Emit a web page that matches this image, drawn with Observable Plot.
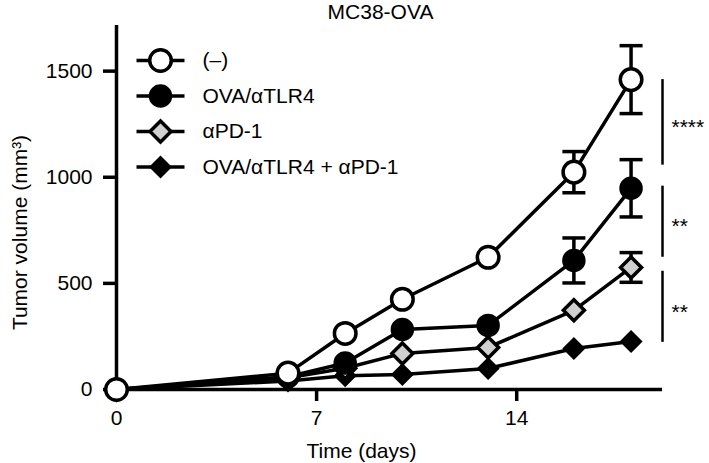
<!DOCTYPE html>
<html>
<head>
<meta charset="utf-8">
<script src="https://cdn.jsdelivr.net/npm/d3@7"></script>
<script src="https://cdn.jsdelivr.net/npm/@observablehq/plot@0.6"></script>
<style>
  html, body { margin: 0; padding: 0; background: #fff; }
  #chart { width: 709px; height: 463px; }
</style>
</head>
<body>
<div id="chart"></div>
<script>
// ---- data ----
const chartTitle = "MC38-OVA";
const xLabel = "Time (days)";
const yLabel = "Tumor volume (mm³)";
const days = [0, 6, 8, 10, 13, 16, 18];
const seriesNames = ["(–)", "OVA/αTLR4", "αPD-1", "OVA/αTLR4 + αPD-1"];
const negVol   = [0, 77, 264, 425, 623, 1024, 1460];
const ovaVol   = [0, 60, 125, 283, 302, 608, 948];
const pd1Vol   = [0, 55, 100, 170, 198, 373, 575];
const comboVol = [0, 40, 65, 71, 99, 193, 226];
const negSem   = [0, 0, 0, 0, 0, 97, 160];
const ovaSem   = [0, 0, 0, 0, 0, 106, 135];
const pd1Sem   = [0, 0, 0, 0, 0, 0, 70];
const comboSem = [0, 0, 0, 0, 0, 0, 0];
const sigLabels = ["****", "**", "**"];
const sigFrom = [1460, 958, 557];
const sigTo   = [1057, 623, 222];
const xTicks = [0, 7, 14];
const yTicks = [0, 500, 1000, 1500];

// ---- build tables ----
const volumes = [negVol, ovaVol, pd1Vol, comboVol];
const sems = [negSem, ovaSem, pd1Sem, comboSem];
const series = seriesNames.map((name, i) =>
  days.map((d, j) => ({series: name, day: d, vol: volumes[i][j], sem: sems[i][j]}))
);
const sigRows = sigLabels.map((t, i) => ({label: t, y1: sigFrom[i], y2: sigTo[i], mid: (sigFrom[i] + sigTo[i]) / 2}));

// ---- custom symbols ----
const diamond = (h) => ({draw(ctx) { ctx.moveTo(0, -h); ctx.lineTo(h, 0); ctx.lineTo(0, h); ctx.lineTo(-h, 0); ctx.closePath(); }});
const capSym = {draw(ctx) { ctx.moveTo(-11.5, 0); ctx.lineTo(11.5, 0); }};
const segSym = {draw(ctx) { ctx.rect(-24, -1.75, 48, 3.5); }};

const styles = [
  {symbol: "circle", fill: "white", stroke: "black", r: 10.8, strokeWidth: 3.5},
  {symbol: "circle", fill: "black", stroke: "black", r: 10, strokeWidth: 3.5},
  {symbol: diamond(10.5), fill: "#d0d0d0", stroke: "black", strokeWidth: 3.5},
  {symbol: diamond(11.5), fill: "black", stroke: "none", strokeWidth: 0}
];

const LW = 3.5;
const FS = 21;
const seriesMarks = [];
for (let i = seriesNames.length - 1; i >= 0; i--) {
  const rows = series[i];
  const errRows = rows.filter(d => d.sem > 0);
  seriesMarks.push(
    Plot.line(rows, {x: "day", y: "vol", stroke: "black", strokeWidth: LW}),
    Plot.ruleX(errRows, {x: "day", y1: d => d.vol - d.sem, y2: d => d.vol + d.sem, stroke: "black", strokeWidth: LW}),
    Plot.dot(errRows, {x: "day", y: d => d.vol + d.sem, symbol: capSym, fill: "none", stroke: "black", strokeWidth: LW}),
    Plot.dot(errRows, {x: "day", y: d => d.vol - d.sem, symbol: capSym, fill: "none", stroke: "black", strokeWidth: LW}),
    Plot.dot(rows, {x: "day", y: "vol", ...styles[i]})
  );
}

const legendMarks = [];
seriesNames.forEach((name, i) => {
  const dy = 35 + 35.5 * i;
  legendMarks.push(
    Plot.dot([name], {frameAnchor: "top-left", dx: 44, dy, symbol: segSym, fill: "black", stroke: "none"}),
    Plot.dot([name], {frameAnchor: "top-left", dx: 44, dy, ...styles[i]}),
    Plot.text([name], {frameAnchor: "top-left", dx: 86, dy, text: d => d, textAnchor: "start", lineAnchor: "middle", fontSize: FS, fill: "black"})
  );
});

const chart = Plot.plot({
  width: 709,
  height: 463,
  marginLeft: 116,
  marginRight: 47,
  marginTop: 25,
  marginBottom: 74,
  style: {fontFamily: "'Liberation Sans', Arial, Helvetica, sans-serif", background: "white", color: "black", overflow: "visible"},
  x: {domain: [0, 19.1]},
  y: {domain: [0, 1715]},
  marks: [
    Plot.axisY({ticks: yTicks, tickFormat: "d", tickSize: 13, tickPadding: 11, strokeWidth: LW, fontSize: FS, label: null}),
    Plot.axisX({ticks: xTicks, tickFormat: "d", tickSize: 12, tickPadding: 9, strokeWidth: LW, fontSize: FS, label: null}),
    Plot.ruleX([0], {stroke: "black", strokeWidth: LW}),
    Plot.ruleY([0], {stroke: "black", strokeWidth: LW}),
    ...seriesMarks,
    Plot.ruleX(sigRows, {x: () => 19.1, y1: "y1", y2: "y2", stroke: "black", strokeWidth: 2.5}),
    Plot.text(sigRows, {x: () => 19.1, y: "mid", text: "label", textAnchor: "start", dx: 9, dy: 5, fontSize: FS, fill: "black"}),
    ...legendMarks,
    Plot.text([chartTitle], {frameAnchor: "top", dx: -9, dy: -13, text: d => d, textAnchor: "middle", lineAnchor: "middle", fontSize: FS, fill: "black"}),
    Plot.text([yLabel], {frameAnchor: "left", dx: -96, dy: 25, rotate: -90, text: d => d, textAnchor: "middle", lineAnchor: "middle", fontSize: FS, fill: "black"}),
    Plot.text([xLabel], {frameAnchor: "bottom", dx: -28, dy: 62, text: d => d, textAnchor: "middle", lineAnchor: "middle", fontSize: FS, fill: "black"})
  ]
});
document.getElementById("chart").appendChild(chart);
</script>
</body>
</html>
